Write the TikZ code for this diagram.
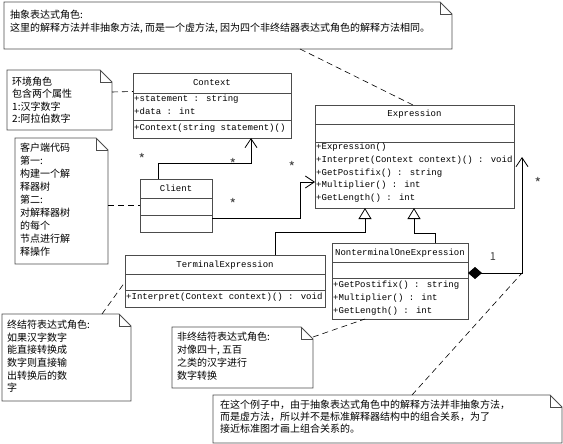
\documentclass[tikz,border=0pt]{standalone}
\usepackage{fontspec}
\newfontfamily\cjkfont{Noto Sans CJK SC}
\newfontfamily\umlfont{Liberation Mono}
\usetikzlibrary{arrows.meta,calc}

% note outline with folded corner
\newcommand{\drawnote}[1]{%
  \draw[noteline] (#1.north west) -- ([xshift=-12pt]#1.north east) -- ([yshift=-12pt]#1.north east) -- (#1.south east) -- (#1.south west) -- cycle;
  \draw[noteline] ([xshift=-12pt]#1.north east) |- ([yshift=-12pt]#1.north east);
}
% compartment line of a class box
\newcommand{\compline}[2]{%
  \draw[umlline] ([yshift=-#2]#1.north west) -- ([yshift=-#2]#1.north east);
}

\begin{document}
\begin{tikzpicture}[x=1pt,y=-1pt,
  umlbox/.style={draw=black!70,line width=0.8pt,fill=white,anchor=north west,inner sep=0pt,outer sep=0pt},
  notebox/.style={anchor=north west,inner sep=0pt,outer sep=0pt},
  noteline/.style={draw=black!70,line width=0.8pt},
  umlline/.style={draw=black!70,line width=0.8pt},
  umltext/.style={font=\umlfont\fontsize{9}{12.7}\selectfont,inner sep=0pt,anchor=north west,align=left},
  umltitle/.style={font=\umlfont\fontsize{9}{11}\selectfont,inner sep=0pt},
  notetext/.style={font=\cjkfont\fontsize{10}{#1}\selectfont,inner sep=0pt,anchor=north west,align=left},
  notetext/.default=13,
  notelink/.style={dash pattern=on 6pt off 4pt,line width=0.6pt},
  assoc/.style={line width=0.8pt,-{Straight Barb[length=9pt,width=12pt]}},
  inherit/.style={line width=0.8pt,-{Triangle[open,length=11pt,width=13pt]}},
  compose/.style={line width=0.8pt,{Diamond[length=14pt,width=12pt]}-{Straight Barb[length=9pt,width=12pt]}},
  mult/.style={font=\cjkfont\fontsize{14}{14}\selectfont,inner sep=0pt,text=black!75},
  multone/.style={font=\cjkfont\fontsize{11}{11}\selectfont,inner sep=0pt,text=black!75}
]
\useasboundingbox (0,0) rectangle (563,444);

% Notes
\node[notebox, minimum width=448pt, minimum height=47pt] (topnote) at (4,2) {};
\drawnote{topnote}
\node[notetext] (toptext) at ([shift={(6pt,-8pt)}]topnote.north west) {抽象表达式角色:\\这里的解释方法并非抽象方法, 而是一个虚方法, 因为四个非终结器表达式角色的解释方法相同。};

\node[notebox, minimum width=105pt, minimum height=60pt] (ctxnote) at (7,70) {};
\drawnote{ctxnote}
\node[notetext=12.3] (ctxtext) at ([shift={(5pt,-7pt)}]ctxnote.north west) {环境角色\\包含两个属性\\1:汉字数字\\2:阿拉伯数字};

\node[notebox, minimum width=93pt, minimum height=126pt] (clientnote) at (15,138) {};
\drawnote{clientnote}
\node[notetext] (clienttext) at ([shift={(5pt,-5pt)}]clientnote.north west) {客户端代码\\第一:\\构建一个解\\释器树\\第二:\\对解释器树\\的每个\\节点进行解\\释操作};

\node[notebox, minimum width=129pt, minimum height=87pt] (termnote) at (2,314) {};
\drawnote{termnote}
\node[notetext=12.6] (termtext) at ([shift={(5pt,-6pt)}]termnote.north west) {终结符表达式角色:\\如果汉字数字\\能直接转换成\\数字则直接输\\出转换后的数\\字};

\node[notebox, minimum width=141pt, minimum height=61pt] (ntnote) at (172,327) {};
\drawnote{ntnote}
\node[notetext] (nttext) at ([shift={(5pt,-5pt)}]ntnote.north west) {非终结符表达式角色:\\对像四十, 五百\\之类的汉字进行\\数字转换};

\node[notebox, minimum width=349pt, minimum height=48pt] (botnote) at (213,395) {};
\drawnote{botnote}
\node[notetext=12] (bottext) at ([shift={(7pt,-5pt)}]botnote.north west) {在这个例子中，由于抽象表达式角色中的解释方法并非抽象方法，\\而是虚方法，所以并不是标准解释器结构中的组合关系，为了\\接近标准图才画上组合关系的。};

% Classes
\node[umlbox, minimum width=158pt, minimum height=65pt] (context) at (133,73) {};
\compline{context}{20pt}
\compline{context}{47pt}
\node[umltitle] (contexttitle) at ([yshift=-10pt]context.north) {Context};
\node[umltext] (contextattr) at ([shift={(1pt,-22pt)}]context.north west) {+statement : string\\+data : int};
\node[umltext] (contextop) at ([shift={(1pt,-51pt)}]context.north west) {+Context(string statement)()};

\node[umlbox, minimum width=72pt, minimum height=53pt] (client) at (140,179) {};
\compline{client}{19pt}
\compline{client}{36pt}
\node[umltitle] (clienttitle) at ([yshift=-9.5pt]client.north) {Client};

\node[umlbox, minimum width=199pt, minimum height=103pt] (expression) at (315,105) {};
\compline{expression}{19pt}
\compline{expression}{37pt}
\node[umltitle] (expressiontitle) at ([yshift=-9.5pt]expression.north) {Expression};
\node[umltext] (expressionop) at ([shift={(1pt,-38pt)}]expression.north west) {+Expression()\\+Interpret(Context context)() : void\\+GetPostifix() : string\\+Multiplier() : int\\+GetLength() : int};

\node[umlbox, minimum width=200pt, minimum height=52pt] (terminal) at (125,255) {};
\compline{terminal}{19pt}
\compline{terminal}{35pt}
\node[umltitle] (terminaltitle) at ([yshift=-10pt]terminal.north) {TerminalExpression};
\node[umltext] (terminalop) at ([shift={(1pt,-38pt)}]terminal.north west) {+Interpret(Context context)() : void};

\node[umlbox, minimum width=136pt, minimum height=76pt] (nonterminal) at (332,243) {};
\compline{nonterminal}{19pt}
\compline{nonterminal}{35pt}
\node[umltitle] (nonterminaltitle) at ([yshift=-10pt]nonterminal.north) {NonterminalOneExpression};
\node[umltext] (nonterminalop) at ([shift={(1pt,-38pt)}]nonterminal.north west) {+GetPostifix() : string\\+Multiplier() : int\\+GetLength() : int};

% Relations
\draw[assoc] ([xshift=18pt]client.north west) -- ++(0,16pt) -| ([xshift=-40pt]context.south east);
\draw[assoc] ([yshift=14pt]client.south east) -| ([shift={(-15pt,26pt)}]expression.south west) -- ([yshift=26pt]expression.south west);
\draw[inherit] ([xshift=150pt]terminal.north west) -- ++(0,23pt) -| ([xshift=50pt]expression.south west);
\draw[inherit] ([xshift=103pt]nonterminal.north west) -- ++(0,10pt) -| ([xshift=99pt]expression.south west);
\coordinate (compbend) at (522,273);
\draw[compose] ([yshift=46pt]nonterminal.south east) -- (compbend) -- ([shift={(8pt,-52pt)}]expression.north east);

% Note links
\draw[notelink] ([xshift=296pt]topnote.south west) -- ([xshift=98pt]expression.north west);
\draw[notelink] ([yshift=8pt]ctxnote.east) -- ([yshift=14pt]context.west);
\draw[notelink] (clientnote.east |- client.west) -- (client.west);
\draw[notelink] ([xshift=100pt]termnote.north west) -- ([yshift=25pt]terminal.south west);
\draw[notelink] ([yshift=-10pt]ntnote.north east) -- ([xshift=33pt]nonterminal.south west);
\draw[notelink] ([xshift=199pt]botnote.north west) -- (compbend);

% Multiplicities
\node[mult] (clientctx) at (142,159) {*};
\node[mult] (ctxclient) at (233,164) {*};
\node[mult] (clientexp) at (233,204) {*};
\node[mult] (expclient) at (292,167) {*};
\node[mult] (expnt) at (538,183) {*};
\node[multone] (ntexp) at (493,257) {1};
\end{tikzpicture}
\end{document}
